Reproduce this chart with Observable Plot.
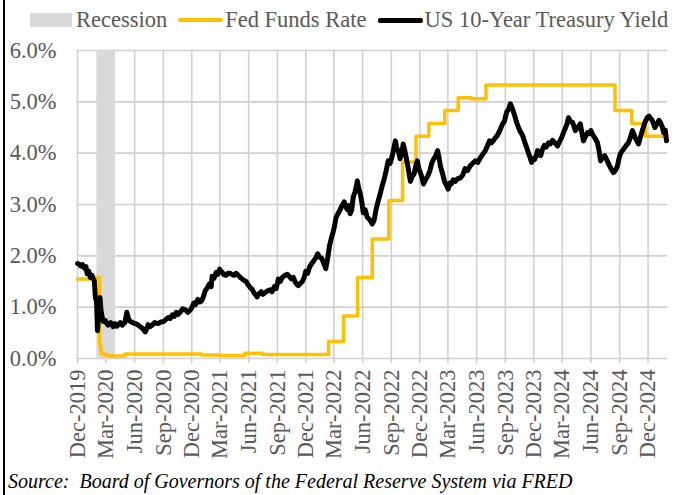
<!DOCTYPE html>
<html>
<head>
<meta charset="utf-8">
<script src="https://cdn.jsdelivr.net/npm/d3@7"></script>
<script src="https://cdn.jsdelivr.net/npm/@observablehq/plot@0.6"></script>
<style>
  html, body { margin: 0; padding: 0; background: #fff; }
  #page { position: relative; width: 688px; height: 495px; overflow: hidden; font-family: "Liberation Serif", "Times New Roman", serif; background: #fff; }
  #frame { position: absolute; left: 3px; top: 0; width: 2px; height: 495px; background: #000; }
  #legend { position: absolute; left: 30px; top: 0; height: 40px; display: flex; align-items: center; font-size: 22.5px; color: #595959; white-space: nowrap; }
  #legend .box { width: 42px; height: 14px; background: #d9d9d9; margin-right: 4px; }
  #legend .ln { width: 45px; height: 4px; margin-left: 11px; margin-right: 2px; border-radius: 2px; }
  #chart { position: absolute; left: 0; top: 38px; }
  #caption { position: absolute; left: 8px; top: 469px; font-size: 20px; line-height: 24px; font-style: italic; color: #000; white-space: pre; }
</style>
</head>
<body>
<div id="page">
  <div id="chart"></div>
  <div id="legend">
    <div class="box"></div><span>Recession</span>
    <div class="ln" style="background:#FFC000"></div><span>Fed Funds Rate</span>
    <div class="ln" style="background:#000;height:5px"></div><span>US 10-Year Treasury Yield</span>
  </div>
  <div id="caption">Source:  Board of Governors of the Federal Reserve System via FRED</div>
  <div id="frame"></div>
</div>
<script>
// ---------- data ----------
const xTickLabels = ["Dec-2019","Mar-2020","Jun-2020","Sep-2020","Dec-2020","Mar-2021","Jun-2021","Sep-2021","Dec-2021","Mar-2022","Jun-2022","Sep-2022","Dec-2022","Mar-2023","Jun-2023","Sep-2023","Dec-2023","Mar-2024","Jun-2024","Sep-2024","Dec-2024"];
const yTicks = [0, 1, 2, 3, 4, 5, 6];
const xDomain = ["2019-12-01", "2025-01-29"];

const recessionStart = "2020-02-01";
const recessionEnd = "2020-04-01";

const fedFundsDates = ["2019-12-01","2020-01-10","2020-02-10","2020-02-14","2020-02-25","2020-03-10","2020-05-01","2020-10-01","2021-01-01","2021-03-01","2021-05-20","2021-07-15","2022-02-12","2022-04-01","2022-05-16","2022-07-02","2022-08-24","2022-10-07","2022-11-19","2022-12-30","2023-02-19","2023-04-03","2023-05-15","2023-07-01","2024-08-17","2024-10-10","2024-11-22","2025-01-29"];
const fedFundsRate = [1.55,1.58,0.25,0.10,0.07,0.05,0.09,0.09,0.07,0.06,0.10,0.08,0.33,0.83,1.58,2.33,3.08,3.83,4.33,4.58,4.83,5.08,5.06,5.33,4.83,4.58,4.33,4.33];

const treasuryDates = ["2019-12-01","2019-12-06","2019-12-11","2019-12-17","2019-12-23","2019-12-28","2020-01-01","2020-01-06","2020-01-11","2020-01-16","2020-01-20","2020-01-24","2020-01-27","2020-01-31","2020-02-03","2020-02-06","2020-02-08","2020-02-11","2020-02-14","2020-02-18","2020-02-22","2020-02-28","2020-03-04","2020-03-08","2020-03-16","2020-03-24","2020-03-30","2020-04-05","2020-04-10","2020-04-16","2020-04-22","2020-04-27","2020-05-01","2020-05-07","2020-05-12","2020-05-18","2020-05-25","2020-06-03","2020-06-10","2020-06-19","2020-06-27","2020-07-05","2020-07-10","2020-07-14","2020-07-20","2020-07-27","2020-08-04","2020-08-15","2020-08-24","2020-09-02","2020-09-09","2020-09-17","2020-09-23","2020-09-30","2020-10-06","2020-10-12","2020-10-18","2020-10-25","2020-11-02","2020-11-10","2020-11-18","2020-11-27","2020-12-02","2020-12-07","2020-12-13","2020-12-20","2020-12-26","2021-01-01","2021-01-07","2021-01-13","2021-01-20","2021-01-26","2021-02-01","2021-02-04","2021-02-10","2021-02-17","2021-02-22","2021-02-28","2021-03-04","2021-03-08","2021-03-14","2021-03-21","2021-03-27","2021-04-03","2021-04-10","2021-04-16","2021-04-22","2021-04-29","2021-05-05","2021-05-11","2021-05-18","2021-05-24","2021-05-30","2021-06-06","2021-06-12","2021-06-18","2021-06-23","2021-06-28","2021-07-04","2021-07-11","2021-07-17","2021-07-23","2021-08-01","2021-08-09","2021-08-15","2021-08-22","2021-08-28","2021-09-04","2021-09-10","2021-09-17","2021-09-25","2021-10-03","2021-10-09","2021-10-16","2021-10-22","2021-10-29","2021-11-03","2021-11-07","2021-11-13","2021-11-20","2021-11-26","2021-12-01","2021-12-07","2021-12-13","2021-12-19","2021-12-26","2022-01-02","2022-01-08","2022-01-14","2022-01-21","2022-01-27","2022-02-03","2022-02-09","2022-02-15","2022-02-20","2022-02-25","2022-03-02","2022-03-08","2022-03-14","2022-03-21","2022-03-27","2022-04-03","2022-04-08","2022-04-13","2022-04-18","2022-04-22","2022-04-27","2022-05-02","2022-05-08","2022-05-15","2022-05-20","2022-05-25","2022-05-30","2022-06-03","2022-06-09","2022-06-16","2022-06-24","2022-07-02","2022-07-08","2022-07-14","2022-07-20","2022-07-27","2022-08-02","2022-08-09","2022-08-15","2022-08-22","2022-08-28","2022-09-04","2022-09-09","2022-09-14","2022-09-18","2022-09-23","2022-09-29","2022-10-04","2022-10-09","2022-10-14","2022-10-19","2022-10-25","2022-11-01","2022-11-07","2022-11-13","2022-11-18","2022-11-23","2022-11-28","2022-12-04","2022-12-08","2022-12-13","2022-12-19","2022-12-26","2023-01-02","2023-01-08","2023-01-14","2023-01-21","2023-01-27","2023-02-01","2023-02-05","2023-02-12","2023-02-18","2023-02-24","2023-03-02","2023-03-07","2023-03-12","2023-03-18","2023-03-24","2023-04-01","2023-04-10","2023-04-18","2023-04-25","2023-05-03","2023-05-11","2023-05-19","2023-05-28","2023-06-05","2023-06-13","2023-06-21","2023-06-29","2023-07-06","2023-07-12","2023-07-18","2023-07-25","2023-07-31","2023-08-07","2023-08-15","2023-08-23","2023-08-29","2023-09-05","2023-09-11","2023-09-17","2023-09-23","2023-09-30","2023-10-06","2023-10-13","2023-10-19","2023-10-26","2023-11-04","2023-11-09","2023-11-14","2023-11-19","2023-11-24","2023-11-29","2023-12-04","2023-12-09","2023-12-13","2023-12-18","2023-12-23","2023-12-29","2024-01-04","2024-01-10","2024-01-17","2024-01-23","2024-01-30","2024-02-07","2024-02-15","2024-02-21","2024-02-28","2024-03-05","2024-03-12","2024-03-17","2024-03-21","2024-03-27","2024-04-03","2024-04-08","2024-04-12","2024-04-20","2024-04-28","2024-05-03","2024-05-08","2024-05-14","2024-05-21","2024-05-27","2024-06-01","2024-06-07","2024-06-13","2024-06-18","2024-06-22","2024-06-27","2024-07-02","2024-07-08","2024-07-15","2024-07-21","2024-07-27","2024-08-04","2024-08-12","2024-08-18","2024-08-25","2024-08-30","2024-09-04","2024-09-10","2024-09-16","2024-09-22","2024-09-29","2024-10-05","2024-10-12","2024-10-17","2024-10-21","2024-10-26","2024-10-31","2024-11-06","2024-11-13","2024-11-18","2024-11-23","2024-11-29","2024-12-04","2024-12-09","2024-12-13","2024-12-18","2024-12-23","2024-12-28","2025-01-01","2025-01-05","2025-01-10","2025-01-15","2025-01-20","2025-01-25","2025-01-29"];
const treasuryYield = [1.85,1.84,1.80,1.83,1.76,1.79,1.65,1.70,1.58,1.62,1.55,1.52,1.20,1.10,0.54,0.78,0.90,1.19,0.95,0.80,0.72,0.74,0.68,0.65,0.70,0.62,0.68,0.63,0.66,0.70,0.65,0.68,0.70,0.90,0.78,0.72,0.70,0.68,0.66,0.62,0.58,0.52,0.58,0.66,0.62,0.65,0.70,0.68,0.71,0.72,0.76,0.80,0.78,0.85,0.82,0.90,0.86,0.90,0.97,0.95,0.90,0.95,1.00,1.08,1.05,1.15,1.10,1.12,1.20,1.32,1.38,1.45,1.40,1.60,1.56,1.68,1.64,1.74,1.70,1.68,1.63,1.62,1.66,1.66,1.63,1.62,1.66,1.62,1.58,1.55,1.52,1.50,1.44,1.38,1.35,1.28,1.24,1.20,1.26,1.30,1.25,1.28,1.32,1.34,1.30,1.40,1.36,1.55,1.50,1.58,1.62,1.64,1.60,1.55,1.58,1.48,1.44,1.42,1.46,1.50,1.58,1.70,1.66,1.78,1.84,1.90,1.96,2.04,1.98,1.95,1.86,1.75,1.95,2.20,2.32,2.43,2.55,2.75,2.82,2.90,2.98,3.05,2.96,2.90,2.98,2.82,2.90,3.15,3.25,3.46,3.30,3.20,3.02,2.84,2.90,2.75,2.70,2.62,2.70,2.90,3.05,3.20,3.35,3.50,3.65,3.85,3.80,3.95,4.10,4.24,4.10,4.05,3.89,3.98,4.18,4.05,3.90,3.70,3.45,3.55,3.60,3.75,3.85,3.70,3.60,3.52,3.40,3.48,3.55,3.65,3.80,3.88,3.95,4.05,3.90,3.75,3.60,3.45,3.38,3.30,3.42,3.40,3.48,3.45,3.50,3.52,3.58,3.70,3.66,3.75,3.80,3.85,3.82,3.91,3.98,4.05,4.15,4.24,4.20,4.25,4.30,4.35,4.45,4.57,4.62,4.80,4.85,4.96,4.88,4.75,4.62,4.50,4.42,4.35,4.18,4.10,4.00,3.92,3.82,3.90,3.88,3.95,4.05,4.00,3.95,4.08,4.15,4.12,4.20,4.18,4.25,4.20,4.14,4.22,4.30,4.40,4.50,4.58,4.69,4.62,4.60,4.52,4.44,4.50,4.57,4.40,4.24,4.32,4.40,4.38,4.44,4.36,4.30,4.25,4.20,4.05,3.85,3.92,3.95,3.88,3.80,3.70,3.62,3.66,3.75,3.90,4.00,4.05,4.10,4.15,4.20,4.30,4.44,4.36,4.30,4.24,4.18,4.30,4.45,4.55,4.63,4.70,4.72,4.68,4.65,4.58,4.50,4.56,4.60,4.64,4.59,4.52,4.40,4.45,4.24];

// ---------- build ----------
const parseMonth = d3.utcParse("%b-%Y");
const tickDates = xTickLabels.map(parseMonth);
const domainDates = xDomain.map(d => new Date(d));
const fed = fedFundsDates.map((d, i) => ({date: new Date(d), value: fedFundsRate[i]}));
const ust = treasuryDates.map((d, i) => ({date: new Date(d), value: treasuryYield[i]}));
const recession = [{start: new Date(recessionStart), end: new Date(recessionEnd)}];
// gridline segments built from tick arrays (drawn as paths)
const hGrid = yTicks.flatMap(v => domainDates.map(d => ({date: d, value: v, key: "h" + v})));
const vGrid = tickDates.flatMap((d, i) => [0, 6].map(v => ({date: d, value: v, key: "v" + i})));
const gridColor = "#d0d0d0";

const chart = Plot.plot({
  width: 688,
  height: 422,
  marginTop: 12,
  marginBottom: 102,
  marginLeft: 77,
  marginRight: 22,
  style: {fontFamily: "'Liberation Serif', 'Times New Roman', serif", fontSize: "22.5px", color: "#595959", background: "white"},
  x: {type: "utc", domain: domainDates, label: null},
  y: {domain: [0, 6], label: null},
  marks: [
    Plot.line(hGrid, {x: "date", y: "value", z: "key", stroke: gridColor, strokeWidth: 1.6}),
    Plot.line(vGrid, {x: "date", y: "value", z: "key", stroke: gridColor, strokeWidth: 1.6}),
    Plot.rect(recession, {x1: "start", x2: "end", y1: 0, y2: 6, fill: "#d9d9d9"}),
    Plot.axisY(yTicks, {tickSize: 0, tickPadding: 21, tickFormat: d => d.toFixed(1) + "%", fill: "#595959", label: null}),
    Plot.axisX(tickDates, {tickSize: 5, tickPadding: 6, tickRotate: -90, tickFormat: d3.utcFormat("%b-%Y"), stroke: gridColor, strokeOpacity: 1, strokeWidth: 1.6, fill: "#595959", label: null}),
    Plot.line(fed, {x: "date", y: "value", curve: "step-after", stroke: "#FFC000", strokeWidth: 3.5, strokeLinejoin: "round"}),
    Plot.line(ust, {x: "date", y: "value", stroke: "#000", strokeWidth: 5, strokeLinejoin: "round", strokeLinecap: "round"})
  ]
});
document.getElementById("chart").appendChild(chart);
</script>
</body>
</html>
